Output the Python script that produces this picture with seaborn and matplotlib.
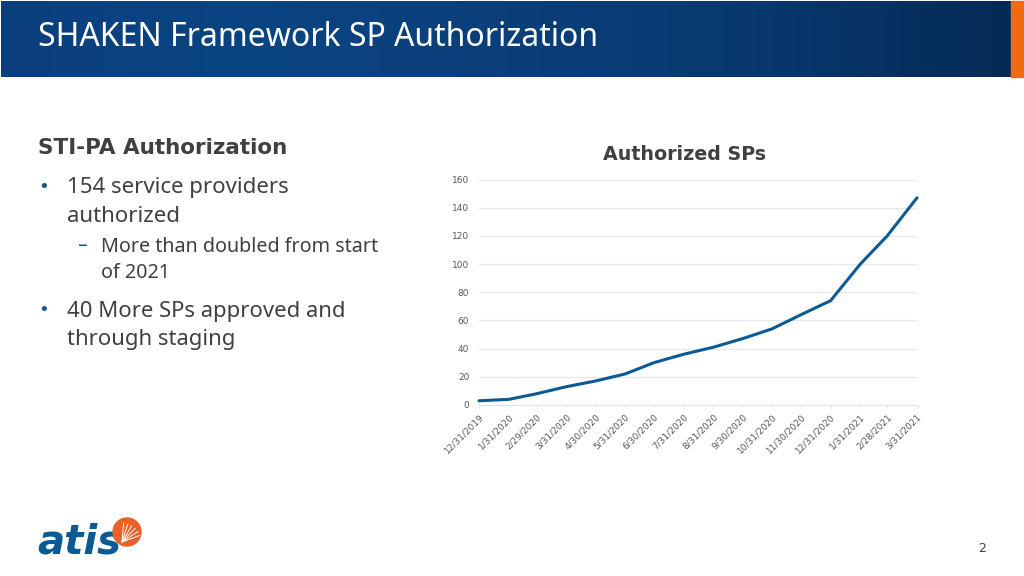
import numpy as np
import pandas as pd
import matplotlib
matplotlib.use("Agg")
import matplotlib.pyplot as plt
from matplotlib.patches import Rectangle, Wedge
import seaborn as sns

dates = ["12/31/2019", "1/31/2020", "2/29/2020", "3/31/2020", "4/30/2020", "5/31/2020",
         "6/30/2020", "7/31/2020", "8/31/2020", "9/30/2020", "10/31/2020", "11/30/2020",
         "12/31/2020", "1/31/2021", "2/28/2021", "3/31/2021"]
authorized = [3, 4, 8, 13, 17, 22, 30, 36, 41, 47, 54, 64, 74, 100, 120, 147]
y_ticks = [0, 20, 40, 60, 80, 100, 120, 140, 160]

W, H = 1024, 576
BLUE = "#0b5a94"
GREY = "#404040"

sns.set_theme(style="white")
plt.rcParams['font.family'] = ['DejaVu Sans']

fig = plt.figure(figsize=(W / 100, H / 100), dpi=100, facecolor="white")

# whole-slide overlay in pixel coordinates
bg = fig.add_axes([0, 0, 1, 1])
bg.set_xlim(0, W)
bg.set_ylim(H, 0)
bg.axis("off")

# header band
grad = np.linspace(0, 1, 256).reshape(1, -1)
cmap = matplotlib.colors.LinearSegmentedColormap.from_list(
    "band", ["#0a3f7e", "#0a4482", "#0a3f7a", "#08386f", "#052a55"])
bg.imshow(grad, extent=(1, 1011, 77, 1), cmap=cmap, aspect="auto", zorder=1)
bg.add_patch(Rectangle((1011, 1), 13, 76, color="#f26a10", zorder=2))
bg.set_xlim(0, W)
bg.set_ylim(H, 0)
bg.text(38, 37, "SHAKEN Framework SP Authorization", color="white", fontsize=23,
        family="Noto Sans", va="center", ha="left", zorder=3)

# left text block
BODY = "Noto Sans"
bg.text(38, 148, "STI-PA Authorization", color=GREY, fontsize=15.5, fontweight="bold", va="center")
bg.text(38, 187, "•", color=BLUE, fontsize=13, va="center")
bg.text(67, 188, "154 service providers", color=GREY, fontsize=16, family=BODY, va="center")
bg.text(67, 216, "authorized", color=GREY, fontsize=16, family=BODY, va="center")
bg.text(78, 246, "–", color=BLUE, fontsize=14, va="center", ha="left")
bg.text(101, 247, "More than doubled from start", color=GREY, fontsize=14.2, family=BODY, va="center")
bg.text(101, 273, "of 2021", color=GREY, fontsize=14.2, family=BODY, va="center")
bg.text(38, 310, "•", color=BLUE, fontsize=13, va="center")
bg.text(67, 311, "40 More SPs approved and", color=GREY, fontsize=15.9, family=BODY, va="center")
bg.text(67, 339, "through staging", color=GREY, fontsize=15.9, family=BODY, va="center")

# logo
bg.text(37, 543, "atis", color="#0b5a94", fontsize=29, fontweight="bold", style="italic",
        va="center", ha="left", family="DejaVu Sans")
bg.add_patch(Wedge((127, 532), 14, 0, 360, color="#e8622a", zorder=3))
for ang in [20, 33, 46, 59, 72, 85]:
    bg.plot([122, 122 + 19 * np.cos(np.radians(ang))], [542, 542 - 19 * np.sin(np.radians(ang))],
            color="white", lw=0.7, zorder=4)
bg.set_xlim(0, W)
bg.set_ylim(H, 0)

bg.text(982, 549, "2", color=GREY, fontsize=9, ha="center", va="center")

# chart
left, right, top, bottom = 479, 917, 179.5, 405
ax = fig.add_axes([left / W, 1 - bottom / H, (right - left) / W, (bottom - top) / H])
ax.patch.set_alpha(0)

df = pd.DataFrame({"date": pd.to_datetime(dates, format="%m/%d/%Y"), "authorized": authorized})
sns.lineplot(data=df, x="date", y="authorized", ax=ax, color=BLUE, lw=2.2, clip_on=False)

ax.set_ylim(0, 160)
ax.set_xlim(df["date"].iloc[0], df["date"].iloc[-1])
ax.set_yticks(y_ticks)
ax.set_xticks(df["date"])
ax.set_xticklabels(dates, rotation=45, ha="right", rotation_mode="anchor", fontsize=6.5, color="#595959")
ax.tick_params(axis="y", labelsize=6.5, labelcolor="#595959", length=0, pad=7)
ax.tick_params(axis="x", length=2, width=0.6, color="#e2e2e2", pad=3, bottom=True)
ax.grid(axis="y", color="#e8e8e8", lw=0.9)
ax.set_axisbelow(True)
ax.set_xlabel("")
ax.set_ylabel("")
sns.despine(ax=ax, left=True)
ax.spines["bottom"].set_color("#e2e2e2")
ax.spines["bottom"].set_linewidth(0.8)

bg.text(684.5, 155, "Authorized SPs", color=GREY, fontsize=13.7, fontweight="bold", ha="center", va="center")

fig.savefig("out.png", dpi=100)
